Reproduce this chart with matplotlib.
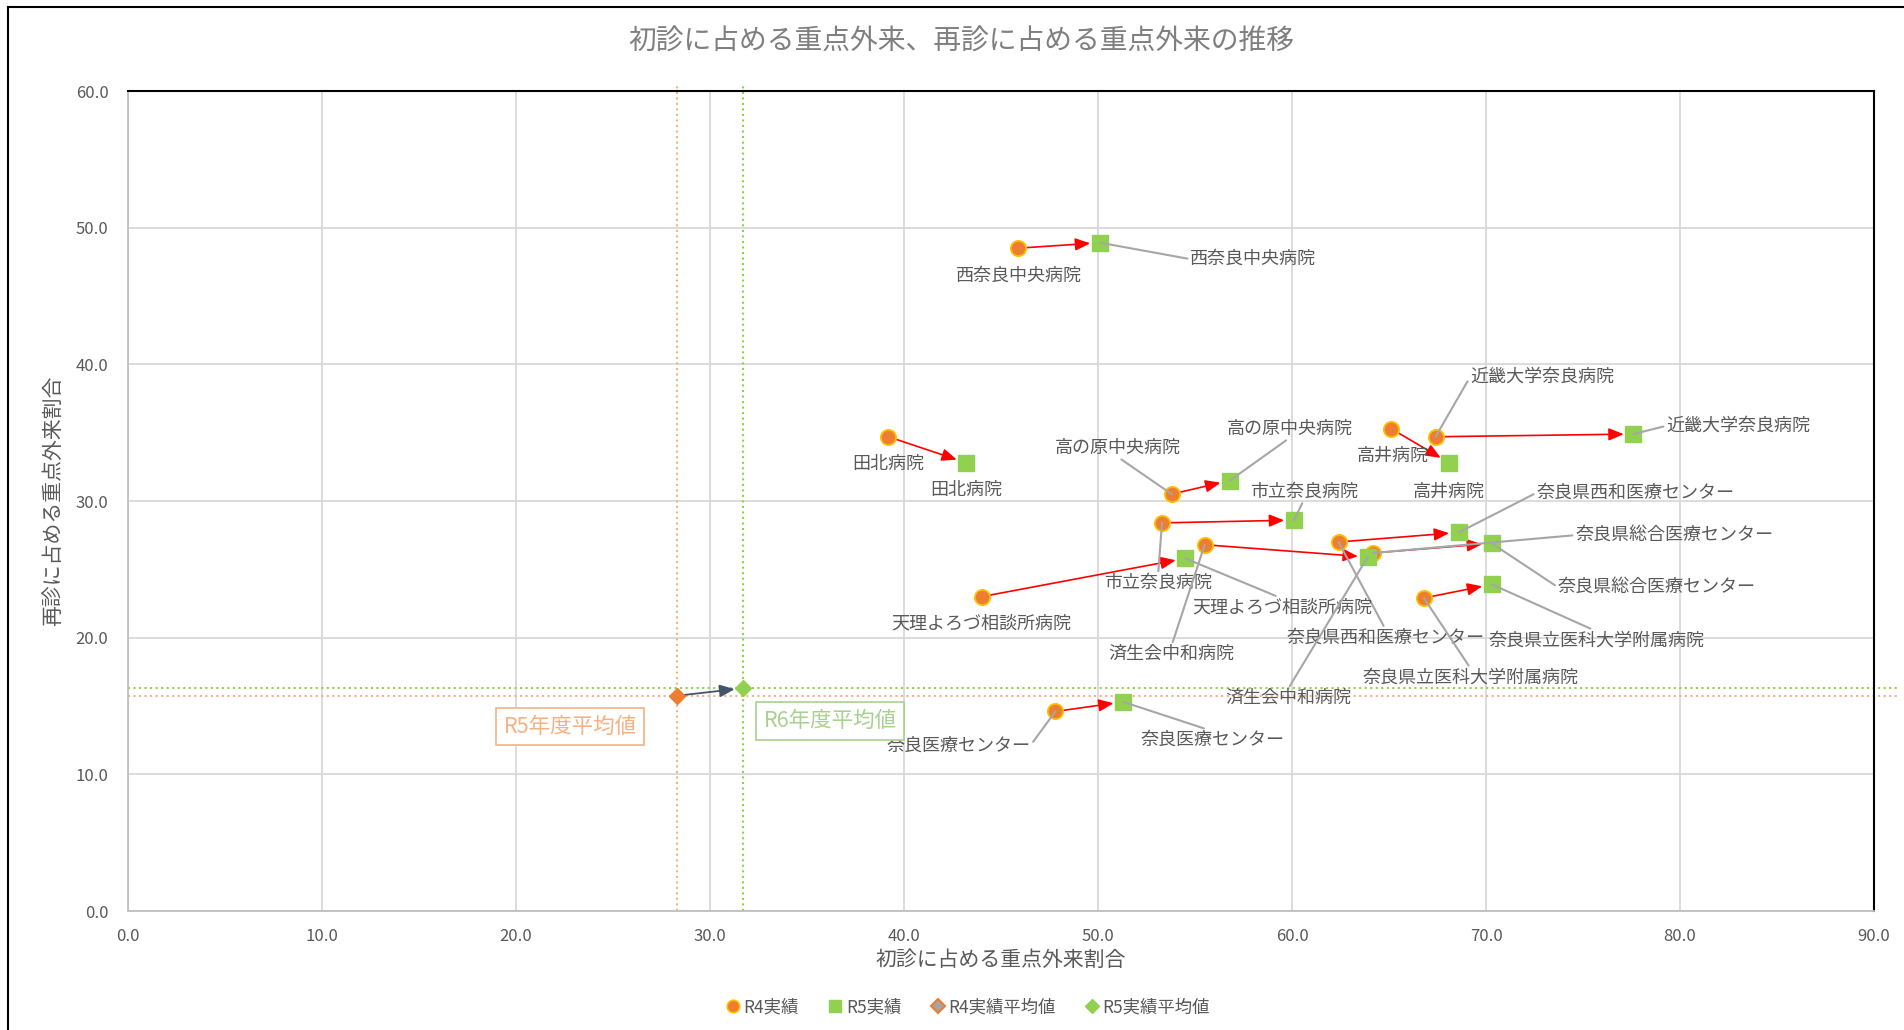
import matplotlib
matplotlib.use('Agg')
import matplotlib.pyplot as plt
from matplotlib.lines import Line2D

plt.rcParams['font.family'] = ['Noto Sans CJK JP', 'DejaVu Sans']

# ---------------- data ----------------
hospitals = ['西奈良中央病院', '田北病院', '高の原中央病院', '市立奈良病院',
             '天理よろづ相談所病院', '済生会中和病院', '奈良医療センター', '高井病院',
             '近畿大学奈良病院', '奈良県西和医療センター', '奈良県総合医療センター',
             '奈良県立医科大学附属病院']
r4_x = [45.9, 39.2, 53.8, 53.3, 44.0, 55.5, 47.8, 65.1, 67.4, 62.4, 64.2, 66.8]
r4_y = [48.5, 34.7, 30.5, 28.4, 23.0, 26.8, 14.6, 35.3, 34.7, 27.0, 26.2, 22.9]
r5_x = [50.1, 43.2, 56.8, 60.1, 54.5, 63.9, 51.3, 68.1, 77.6, 68.6, 70.3, 70.3]
r5_y = [48.9, 32.8, 31.5, 28.6, 25.8, 25.9, 15.3, 32.8, 34.9, 27.7, 26.9, 23.9]
avg_x = [28.3, 31.7]      # R4 average, R5 average
avg_y = [15.75, 16.3]
avg_box_labels = ['R5年度平均値', 'R6年度平均値']
series_names = ['R4実績', 'R5実績', 'R4実績平均値', 'R5実績平均値']
title = '初診に占める重点外来、再診に占める重点外来の推移'
xlabel = '初診に占める重点外来割合'
ylabel = '再診に占める重点外来割合'
xticks = [0, 10, 20, 30, 40, 50, 60, 70, 80, 90]
yticks = [0, 10, 20, 30, 40, 50, 60]

# ---------------- layout (label placement) ----------------
r4_label_pos = [(45.9, 46.5), (39.2, 32.7), (51.0, 33.9), (53.1, 24.0), (44.0, 21.0),
                (53.8, 18.8), (42.8, 12.1), (65.2, 33.3), (72.9, 39.1), (64.8, 20.0),
                (79.7, 27.5), (69.2, 17.1)]
r4_leader = [None, None, (0.5, 0), (0.5, 1), None, (0.5, 1), (1, 0.5), None,
             (0, 0.5), (0.5, 1), (0, 0.5), (0.5, 1)]
r5_label_pos = [(58.0, 47.7), (43.2, 30.8), (59.9, 35.3), (60.6, 30.7), (59.5, 22.2),
                (59.8, 15.6), (55.9, 12.5), (68.1, 30.7), (83.0, 35.5), (77.7, 30.6),
                (78.8, 23.7), (75.7, 19.8)]
r5_leader = [(0, 0.5), None, (0.5, 0), (0.5, 0), (0.5, 1), (0.5, 1), (0.5, 1), None,
             (0, 0.5), (0, 0.5), (0, 0.5), (0.5, 1)]
avg_box_pos = [(22.8, 13.5), (36.2, 13.9)]

ORANGE = '#ED7D31'
GOLD = '#FFC000'
GREEN = '#92D050'
LORANGE = '#F4B183'
LGREEN = '#A9D18E'
GRID = '#D9D9D9'
TXT = '#595959'
LEAD = '#A6A6A6'

W, H = 1904, 1030
fig = plt.figure(figsize=(W / 100, H / 100), dpi=100)
fig.patch.set_facecolor('white')
ax = fig.add_axes([128 / W, 1 - 911 / H, (1874 - 128) / W, (911 - 91) / H])

ax.set_xlim(0, 90)
ax.set_ylim(0, 60)
ax.set_xticks(xticks)
ax.set_yticks(yticks)
ax.set_xticklabels([f'{v:.1f}' for v in xticks])
ax.set_yticklabels([f'{v:.1f}' for v in yticks])
ax.tick_params(length=0, labelsize=12, colors=TXT)
ax.tick_params(axis='x', pad=12)
ax.tick_params(axis='y', pad=14)
ax.grid(True, color=GRID, lw=1.3)
ax.set_axisbelow(True)
for s in ['left', 'bottom']:
    ax.spines[s].set_color('#BFBFBF')
    ax.spines[s].set_linewidth(1.3)
for s in ['top', 'right']:
    ax.spines[s].set_color('black')
    ax.spines[s].set_linewidth(1.5)

# average reference lines
ax.plot([avg_x[0], avg_x[0]], [0, 60.5], ls=':', color=LORANGE, lw=1.5, clip_on=False, zorder=1)
ax.plot([avg_x[1], avg_x[1]], [0, 60.5], ls=':', color=GREEN, lw=1.5, clip_on=False, zorder=1)
ax.plot([0, 91.2], [avg_y[0], avg_y[0]], ls=':', color=LORANGE, lw=1.5, clip_on=False, zorder=1)
ax.plot([0, 91.2], [avg_y[1], avg_y[1]], ls=':', color=GREEN, lw=1.5, clip_on=False, zorder=1)

# red arrows R4 -> R5
arrow_style = '-|>,head_length=0.6,head_width=0.25'
for i in range(len(hospitals)):
    ax.annotate('', xy=(r5_x[i], r5_y[i]), xytext=(r4_x[i], r4_y[i]),
                arrowprops=dict(arrowstyle=arrow_style, color='#FF0000', lw=1.2,
                                mutation_scale=15, shrinkA=0, shrinkB=7), zorder=3)
ax.annotate('', xy=(avg_x[1], avg_y[1]), xytext=(avg_x[0], avg_y[0]),
            arrowprops=dict(arrowstyle=arrow_style, color='#44546A', lw=1.3,
                            mutation_scale=15, shrinkA=0, shrinkB=6), zorder=3)

# markers
ax.plot(r4_x, r4_y, 'o', ms=11, mfc=ORANGE, mec=GOLD, mew=1.3, ls='none', zorder=4)
ax.plot(r5_x, r5_y, 's', ms=11.5, mfc=GREEN, mec=GREEN, ls='none', zorder=4)
ax.plot([avg_x[0]], [avg_y[0]], 'D', ms=8, mfc=ORANGE, mec=ORANGE, ls='none', zorder=4)
ax.plot([avg_x[1]], [avg_y[1]], 'D', ms=8, mfc=GREEN, mec=GREEN, ls='none', zorder=4)

# data labels with leader lines
def put_labels(xs, ys, positions, leaders):
    for i, name in enumerate(hospitals):
        lx, ly = positions[i]
        props = None
        if leaders[i] is not None:
            props = dict(arrowstyle='-', color=LEAD, lw=1.5, relpos=leaders[i],
                         shrinkA=0, shrinkB=0)
        ax.annotate(name, xy=(xs[i], ys[i]), xytext=(lx, ly), textcoords='data',
                    ha='center', va='center', fontsize=13, color=TXT,
                    arrowprops=props, zorder=5)

put_labels(r4_x, r4_y, r4_label_pos, r4_leader)
put_labels(r5_x, r5_y, r5_label_pos, r5_leader)

# average boxes
for (bx, by), txt, col in zip(avg_box_pos, avg_box_labels, [LORANGE, LGREEN]):
    ax.text(bx, by, txt, ha='center', va='center', fontsize=15.5, color=col,
            bbox=dict(boxstyle='square,pad=0.35', fc='white', ec=col, lw=1.2), zorder=5)

# titles
fig.text(0.505, 0.960, title, ha='center', va='center', fontsize=20, color='#7F7F7F')
fig.text(1001 / W, 1 - 960 / H, xlabel, ha='center', va='center', fontsize=15, color=TXT)
fig.text(53 / W, 1 - 501 / H, ylabel, ha='center', va='center', fontsize=15,
         color=TXT, rotation=90)

# legend
handles = [
    Line2D([], [], marker='o', ls='none', ms=9, mfc=ORANGE, mec=GOLD, mew=1.2),
    Line2D([], [], marker='s', ls='none', ms=9, mfc=GREEN, mec=GREEN),
    Line2D([], [], marker='D', ls='none', ms=7, mfc='#A5A5A5', mec=ORANGE, mew=1.5),
    Line2D([], [], marker='D', ls='none', ms=7, mfc=GREEN, mec=GREEN),
]
leg = fig.legend(handles, series_names, loc='center', bbox_to_anchor=(0.508, 1 - 1007 / H),
                 ncol=4, frameon=False, fontsize=12.5, handletextpad=0.1,
                 columnspacing=1.6, handlelength=1.0)
for t in leg.get_texts():
    t.set_color(TXT)

# outer frame (top and left edges visible)
fig.add_artist(Line2D([8 / W, 1], [1 - 7 / H, 1 - 7 / H], transform=fig.transFigure,
                      color='black', lw=1.5))
fig.add_artist(Line2D([8 / W, 8 / W], [0, 1 - 7 / H], transform=fig.transFigure,
                      color='black', lw=1.5))

fig.savefig('out.png', dpi=100)
